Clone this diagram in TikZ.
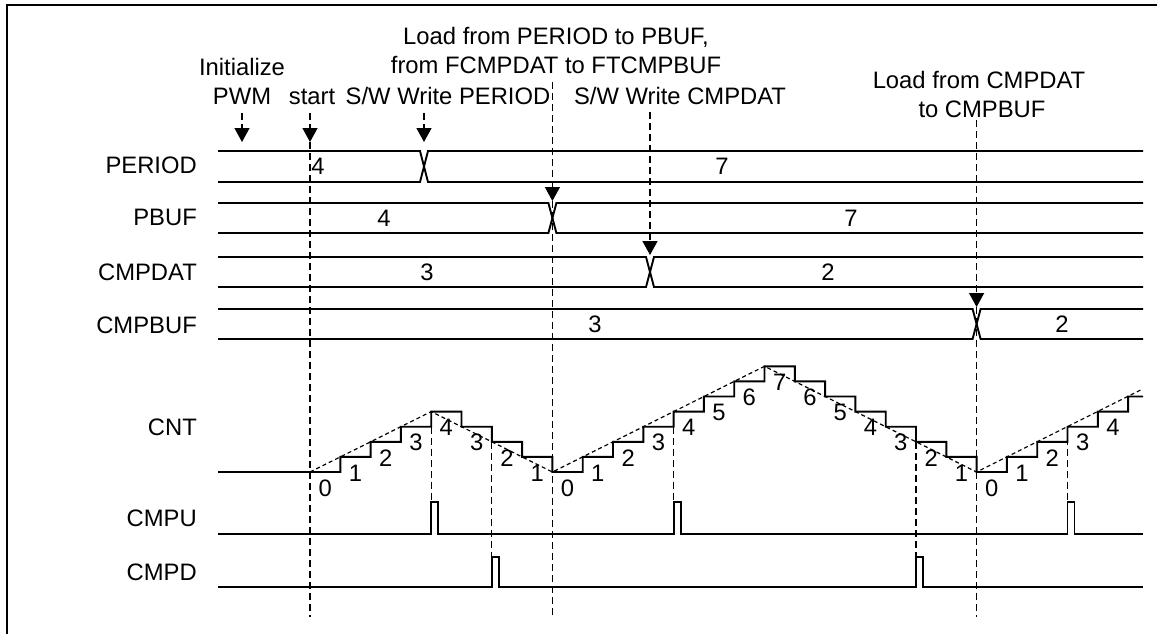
\documentclass[tikz,border=0pt]{standalone}
\usepackage{fontspec}
\setmainfont{Liberation Sans}
\usetikzlibrary{arrows.meta}
\newcommand\mybus[3]{%
  \draw[sig] (218,#1) -- ({#3-4},#1) -- ({#3+4},#2) -- (1143,#2);
  \draw[sig] (218,#2) -- ({#3-4},#2) -- ({#3+4},#1) -- (1143,#1);}
\begin{document}
\begin{tikzpicture}[x=1pt,y=-1pt,
  sig/.style={line width=1.9pt, line join=miter},
  vdash/.style={line width=1.3pt, dash pattern=on 7pt off 4pt},
  ramp/.style={line width=1.2pt, dash pattern=on 4pt off 3pt},
  tip/.style={-{Triangle[width=15pt,length=14pt]}},
  lbl/.style={font=\fontsize{23.8}{28}\selectfont, inner sep=0pt},
  signame/.style={lbl, anchor=base east},
  val/.style={lbl, anchor=center},
  toptext/.style={lbl, anchor=base},
]
\useasboundingbox (0,0) rectangle (1157,633);
\fill[white] (0,0) rectangle (1157,633);
\draw[line width=2.2pt] (7,640) -- (7,5) -- (1165,5);

% signal names
\node[signame] (lperiod) at (197,173) {PERIOD};
\node[signame] (lpbuf) at (197,225) {PBUF};
\node[signame] (lcmpdat) at (197,280) {CMPDAT};
\node[signame] (lcmpbuf) at (197,333) {CMPBUF};
\node[signame] (lcnt) at (197,435) {CNT};
\node[signame] (lcmpu) at (197,526) {CMPU};
\node[signame] (lcmpd) at (197,580) {CMPD};

% top texts
\node[toptext] (init1) at (242,75) {Initialize};
\node[toptext] (init2) at (242,104) {PWM};
\node[toptext] (tstart) at (312,104) {start};
\node[toptext] (swp) at (448,104) {S/W Write PERIOD};
\node[toptext] (ld1) at (556,44) {Load from PERIOD to PBUF,};
\node[toptext] (ld2) at (556,73) {from FCMPDAT to FTCMPBUF};
\node[toptext] (swc) at (680,104) {S/W Write CMPDAT};
\node[toptext] (lc1) at (979,88) {Load from CMPDAT};
\node[toptext] (lc2) at (982,117) {to CMPBUF};

% buses
\mybus{151}{182}{424}
\mybus{203}{233}{552.4}
\mybus{257}{287}{650}
\mybus{309}{339}{976.6}

% bus values
\node[val] (p4) at (318,166) {4};
\node[val] (p7) at (722,166) {7};
\node[val] (b4) at (384,218) {4};
\node[val] (b7) at (851,218) {7};
\node[val] (d3) at (427,272) {3};
\node[val] (d2) at (828,272) {2};
\node[val] (f3) at (595,324) {3};
\node[val] (f2) at (1062,324) {2};

% arrows
\coordinate (aIT) at (242,113); \coordinate (aIB) at (242,142);
\draw[vdash,tip] (aIT) -- (aIB);
\coordinate (sT) at (310,113); \coordinate (sA) at (310,142); \coordinate (sB) at (310,617);
\draw[vdash,tip] (sT) -- (sA); \draw[vdash] (sA) -- (sB);
\coordinate (wpT) at (424,113); \coordinate (wpB) at (424,142);
\draw[vdash,tip] (wpT) -- (wpB);
\coordinate (lpT) at (552.4,82); \coordinate (lpA) at (552.4,201); \coordinate (lpB) at (552.4,617);
\draw[vdash,tip] (lpT) -- (lpA); \draw[vdash] (lpA) -- (lpB);
\coordinate (wcT) at (650,112); \coordinate (wcB) at (650,255);
\draw[vdash,tip] (wcT) -- (wcB);
\coordinate (lcT) at (976.6,120); \coordinate (lcA) at (976.6,307); \coordinate (lcB) at (976.6,617);
\draw[vdash,tip] (lcT) -- (lcA); \draw[vdash] (lcA) -- (lcB);

% CNT staircase
\draw[sig] (218,472) foreach \l [count=\k from 0] in {0,1,2,3,4,3,2,1,0,1,2,3,4,5,6,7,6,5,4,3,2,1,0,1,2,3,4}
  { -- ({310+\k*30.3},{472-\l*15.1}) -- ({310+(\k+1)*30.3},{472-\l*15.1}) }
  -- (1128.1,396.5) -- (1143,396.5);
\foreach \l [count=\k from 0] in {0,1,2,3,4,3,2,1,0,1,2,3,4,5,6,7,6,5,4,3,2,1,0,1,2,3,4}
  \node[val] (c\k) at ({310+(\k+0.5)*30.3},{472-\l*15.1+16}) {\l};

% ideal ramp
\coordinate (r0) at (310,472); \coordinate (r1) at (431.2,411.6);
\coordinate (r2) at (552.4,472); \coordinate (r3) at (764.5,366.3);
\coordinate (r4) at (976.6,472); \coordinate (r5) at (1143,388.8);
\draw[ramp] (r0) -- (r1) -- (r2) -- (r3) -- (r4) -- (r5);

% CMPU / CMPD
\draw[sig] (218,534) -- (431.2,534) -- (431.2,502) -- (438.2,502) -- (438.2,534)
  -- (673.6,534) -- (673.6,502) -- (680.6,502) -- (680.6,534)
  -- (1067.5,534) -- (1067.5,502) -- (1074.5,502) -- (1074.5,534) -- (1143,534);
\draw[sig] (218,587) -- (491.8,587) -- (491.8,557) -- (498.8,557) -- (498.8,587)
  -- (916,587) -- (916,557) -- (923,557) -- (923,587) -- (1143,587);

% short dashed guides
\coordinate (g1a) at (431.2,426.7); \coordinate (g1b) at (431.2,502);
\coordinate (g2a) at (491.8,441.8); \coordinate (g2b) at (491.8,557);
\coordinate (g3a) at (673.6,426.7); \coordinate (g3b) at (673.6,502);
\coordinate (g4a) at (916,441.8); \coordinate (g4b) at (916,557);
\coordinate (g5a) at (1067.5,426.7); \coordinate (g5b) at (1067.5,502);
\draw[vdash] (g1a) -- (g1b);
\draw[vdash] (g2a) -- (g2b);
\draw[vdash] (g3a) -- (g3b);
\draw[vdash] (g4a) -- (g4b);
\draw[vdash] (g5a) -- (g5b);
\end{tikzpicture}
\end{document}
